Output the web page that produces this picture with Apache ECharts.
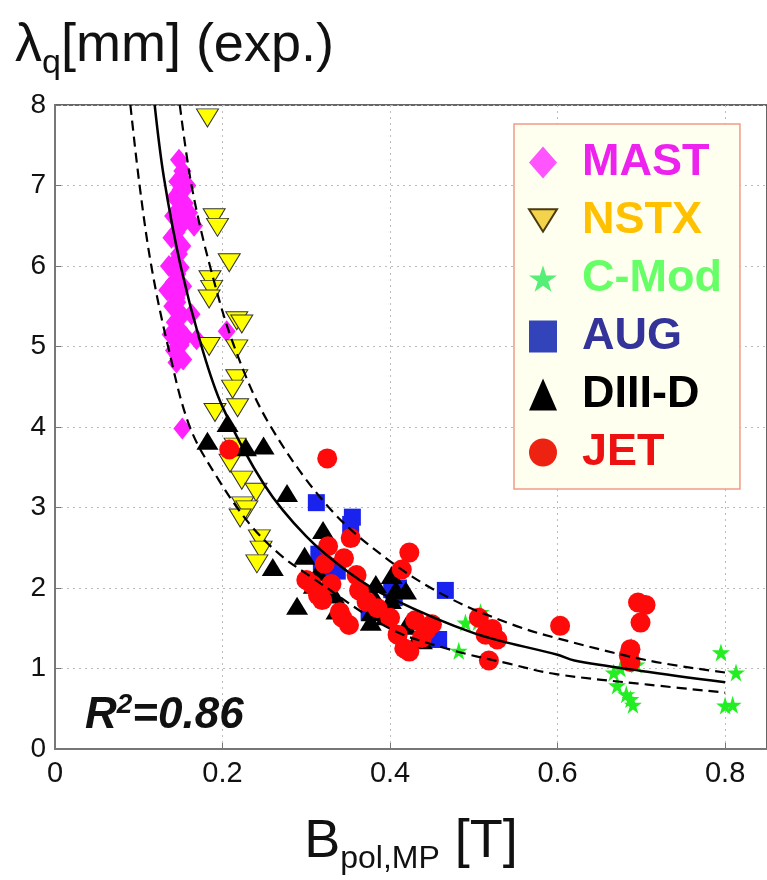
<!DOCTYPE html>
<html>
<head>
<meta charset="utf-8">
<script src="https://cdn.jsdelivr.net/npm/echarts@6/dist/echarts.min.js"></script>
<style>
  html, body { margin: 0; padding: 0; background: #fff; }
  #chart { width: 767px; height: 880px; }
</style>
</head>
<body>
<div id="chart"></div>
<script>
// values
const mastX = [0.148, 0.152, 0.146, 0.150, 0.143, 0.155, 0.147, 0.141, 0.150, 0.160, 0.166, 0.145, 0.139, 0.152, 0.148, 0.144, 0.150, 0.146, 0.142, 0.153, 0.149, 0.145, 0.140, 0.147, 0.151, 0.143, 0.148, 0.138, 0.145, 0.150, 0.156, 0.142, 0.147, 0.153, 0.163, 0.169, 0.146, 0.136, 0.149, 0.205, 0.152, 0.145, 0.134, 0.158];
const mastY = [7.32, 7.18, 7.05, 6.95, 6.85, 6.78, 6.70, 6.62, 6.55, 6.66, 6.50, 6.42, 6.35, 6.25, 6.15, 6.05, 5.98, 5.90, 5.80, 5.75, 5.68, 5.60, 5.50, 5.45, 5.38, 5.30, 5.22, 5.15, 5.08, 5.02, 5.12, 4.95, 4.88, 4.84, 5.40, 5.09, 5.55, 6.00, 6.48, 5.19, 3.98, 4.80, 5.70, 7.00];

const nstxX = [0.182, 0.190, 0.194, 0.208, 0.185, 0.187, 0.184, 0.217, 0.223, 0.184, 0.217, 0.217, 0.212, 0.218, 0.191, 0.215, 0.209, 0.223, 0.240, 0.224, 0.229, 0.221, 0.244, 0.246, 0.241];
const nstxY = [7.84, 6.60, 6.48, 6.04, 5.83, 5.71, 5.59, 5.32, 5.28, 5.00, 4.97, 4.60, 4.47, 4.24, 4.18, 3.75, 3.55, 3.34, 3.19, 3.02, 2.97, 2.87, 2.61, 2.47, 2.30];

const cmodX = [0.508, 0.490, 0.505, 0.482, 0.688, 0.667, 0.671, 0.682, 0.690, 0.694, 0.687, 0.795, 0.813, 0.800, 0.809, 0.675];
const cmodY = [1.70, 1.57, 1.58, 1.22, 1.27, 0.95, 0.79, 0.68, 0.55, 1.05, 0.62, 1.20, 0.95, 0.54, 0.55, 1.00];

const augX = [0.312, 0.355, 0.353, 0.315, 0.318, 0.328, 0.337, 0.320, 0.402, 0.466, 0.458, 0.375, 0.405, 0.410];
const augY = [3.06, 2.88, 2.79, 2.42, 2.32, 2.27, 2.21, 2.25, 1.98, 1.97, 1.36, 1.70, 1.88, 2.00];

const diiidX = [0.206, 0.182, 0.249, 0.228, 0.277, 0.320, 0.298, 0.260, 0.314, 0.309, 0.333, 0.289, 0.336, 0.383, 0.382, 0.378, 0.377, 0.402, 0.407, 0.419, 0.401, 0.419, 0.435, 0.438, 0.395];
const diiidY = [4.05, 3.83, 3.77, 3.75, 3.18, 2.72, 2.40, 2.26, 2.20, 2.04, 1.92, 1.78, 1.72, 2.05, 1.88, 1.70, 1.58, 2.16, 1.98, 1.97, 1.85, 1.53, 1.42, 1.35, 1.65];

const jetX = [0.208, 0.325, 0.423, 0.414, 0.353, 0.345, 0.326, 0.360, 0.363, 0.307, 0.314, 0.319, 0.340, 0.351, 0.343, 0.400, 0.409, 0.417, 0.423, 0.443, 0.450, 0.438, 0.330, 0.300, 0.385, 0.430, 0.506, 0.522, 0.528, 0.514, 0.518, 0.603, 0.696, 0.705, 0.699, 0.687, 0.685, 0.687, 0.322, 0.372];
const jetY = [3.72, 3.61, 2.44, 2.23, 2.62, 2.37, 2.52, 2.16, 1.97, 2.04, 1.91, 1.85, 1.70, 1.54, 1.63, 1.63, 1.42, 1.25, 1.21, 1.47, 1.55, 1.38, 2.05, 2.10, 1.75, 1.60, 1.63, 1.49, 1.36, 1.42, 1.10, 1.53, 1.82, 1.79, 1.57, 1.24, 1.16, 1.08, 2.30, 1.83];

// fit and its band
const fitX = [0.119, 0.13, 0.15, 0.175, 0.2, 0.25, 0.3, 0.35, 0.4, 0.5, 0.6, 0.62, 0.7, 0.8];
const fitY = [8, 7.1, 6.0, 5.0, 4.25, 3.28, 2.64, 2.2, 1.88, 1.44, 1.17, 1.1, 0.97, 0.83];
const upX = [0.149, 0.163, 0.185, 0.214, 0.255, 0.327, 0.399, 0.47, 0.545, 0.598, 0.708, 0.8];
const upY = [8, 7, 6, 5, 4.05, 3.0, 2.34, 1.88, 1.55, 1.38, 1.10, 0.95];
const loX = [0.09, 0.101, 0.115, 0.135, 0.161, 0.195, 0.232, 0.268, 0.304, 0.399, 0.47, 0.542, 0.598, 0.708, 0.8];
const loY = [8, 7, 6, 5, 4, 3.35, 2.8, 2.42, 2.15, 1.5, 1.24, 1.06, 0.93, 0.8, 0.7];

const FONT = '"Liberation Sans", Arial, sans-serif';
const DOWN_TRI = 'path://M0,0 L20,0 L10,16 Z';
const STAR = 'path://M50,0 L61,35 L98,35 L68,57 L79,91 L50,70 L21,91 L32,57 L2,35 L39,35 Z';

const zip = (xs, ys) => xs.map((x, i) => [x, ys[i]]);

const chart = echarts.init(document.getElementById('chart'));

const scatter = (name, xs, ys, symbol, size, color, extra) => Object.assign({
    name: name,
    type: 'scatter',
    symbol: symbol,
    symbolSize: size,
    itemStyle: { color: color, opacity: 1 },
    data: zip(xs, ys),
    z: 3
}, extra || {});

const fitLine = (xs, ys, dashed) => ({
    type: 'line',
    data: zip(xs, ys),
    showSymbol: false,
    smooth: 0.35,
    silent: true,
    z: 4,
    lineStyle: { color: '#000', width: dashed ? 2.2 : 2.5, type: dashed ? [10, 6] : 'solid' }
});

chart.setOption({
    animation: false,
    backgroundColor: '#fff',
    title: [{
        left: 10,
        top: 6,
        text: '{l|λ}{s|q}{l|[mm] (exp.)}',
        textStyle: {
            fontWeight: 'normal',
            rich: {
                l: { fontSize: 54, fontFamily: FONT, fontWeight: 'normal', color: '#111' },
                s: { fontSize: 34, fontFamily: FONT, fontWeight: 'normal', color: '#111', padding: [36, 0, 0, 0] }
            }
        }
    }, {
        left: 80,
        top: 686,
        text: '{r|R}{p|2}{r|=0.86}',
        textStyle: {
            rich: {
                r: { fontSize: 44, fontFamily: FONT, fontWeight: 'bold', fontStyle: 'italic', color: '#111' },
                p: { fontSize: 28, fontFamily: FONT, fontWeight: 'bold', fontStyle: 'italic', color: '#111', padding: [0, 0, 22, 0] }
            }
        }
    }],
    grid: {
        left: 55, top: 105, right: -2, bottom: 128,
        show: true, borderColor: '#666', borderWidth: 2, backgroundColor: 'transparent'
    },
    legend: {
        left: 514,
        top: 124,
        orient: 'vertical',
        padding: [16, 18, 14, 14],
        itemGap: 13,
        itemWidth: 28,
        itemHeight: 32,
        backgroundColor: '#fffff0',
        borderColor: '#f29a88',
        borderWidth: 1.5,
        selectedMode: false,
        formatter: name => '{n|' + name + '}',
        textStyle: {
            fontFamily: FONT,
            fontSize: 45,
            fontWeight: 'bold',
            rich: { n: { fontFamily: FONT, fontSize: 45, fontWeight: 'bold', lineHeight: 45, padding: [0, 0, 0, 20] } }
        },
        data: [
            { name: 'MAST', icon: 'diamond', itemStyle: { color: '#ff55ff' }, textStyle: { color: '#ee22ee' } },
            { name: 'NSTX', icon: DOWN_TRI, itemStyle: { color: '#f3d24c', borderColor: '#4a3a10', borderWidth: 2 }, textStyle: { color: '#ffc000' } },
            { name: 'C-Mod', icon: STAR, itemStyle: { color: '#55ee77' }, textStyle: { color: '#66ff66' } },
            { name: 'AUG', icon: 'rect', itemStyle: { color: '#3344bb' }, textStyle: { color: '#333399' } },
            { name: 'DIII-D', icon: 'triangle', itemStyle: { color: '#000' }, textStyle: { color: '#000' } },
            { name: 'JET', icon: 'circle', itemStyle: { color: '#ee2211' }, textStyle: { color: '#ee1111' } }
        ]
    },
    xAxis: {
        type: 'value',
        min: 0,
        max: 0.85,
        interval: 0.2,
        name: '{b|B}{s|pol,MP}{b| [T]}',
        nameLocation: 'middle',
        nameGap: 60,
        nameTextStyle: {
            rich: {
                b: { fontSize: 54, fontFamily: FONT, color: '#111' },
                s: { fontSize: 32, fontFamily: FONT, color: '#111', padding: [34, 0, 0, 0] }
            }
        },
        axisLine: { onZero: false, lineStyle: { color: '#777', width: 2 } },
        axisTick: { inside: true, length: 6, lineStyle: { color: '#777' } },
        axisLabel: {
            showMaxLabel: false,
            margin: 10,
            fontSize: 29,
            fontFamily: FONT,
            color: '#111',
            formatter: v => (v === 0 ? '0' : String(Math.round(v * 10) / 10))
        },
        splitLine: { show: true, lineStyle: { color: '#bbb', type: [2, 4] } }
    },
    yAxis: {
        type: 'value',
        min: 0,
        max: 8,
        interval: 1,
        axisLine: { show: true, onZero: false, lineStyle: { color: '#777', width: 2 } },
        axisTick: { show: true, inside: true, length: 6, lineStyle: { color: '#777' } },
        axisLabel: { margin: 9, fontSize: 28, fontFamily: FONT, color: '#111' },
        splitLine: { show: true, lineStyle: { color: '#bbb', type: [2, 4] } }
    },
    series: [
        scatter('MAST', mastX, mastY, 'diamond', [18, 22], '#ff22ff'),
        scatter('NSTX', nstxX, nstxY, DOWN_TRI, [22, 18], '#ffff00', { itemStyle: { color: '#ffff00', borderColor: '#333', borderWidth: 1, opacity: 1 } }),
        scatter('C-Mod', cmodX, cmodY, STAR, 18, '#22ee22'),
        scatter('AUG', augX, augY, 'rect', 17, '#1a22ee'),
        scatter('DIII-D', diiidX, diiidY, 'triangle', [22, 18], '#000'),
        scatter('JET', jetX, jetY, 'circle', 20, '#ff0a0a'),
        fitLine(fitX, fitY, false),
        fitLine(upX, upY, true),
        fitLine(loX, loY, true)
    ]
});
</script>
</body>
</html>
